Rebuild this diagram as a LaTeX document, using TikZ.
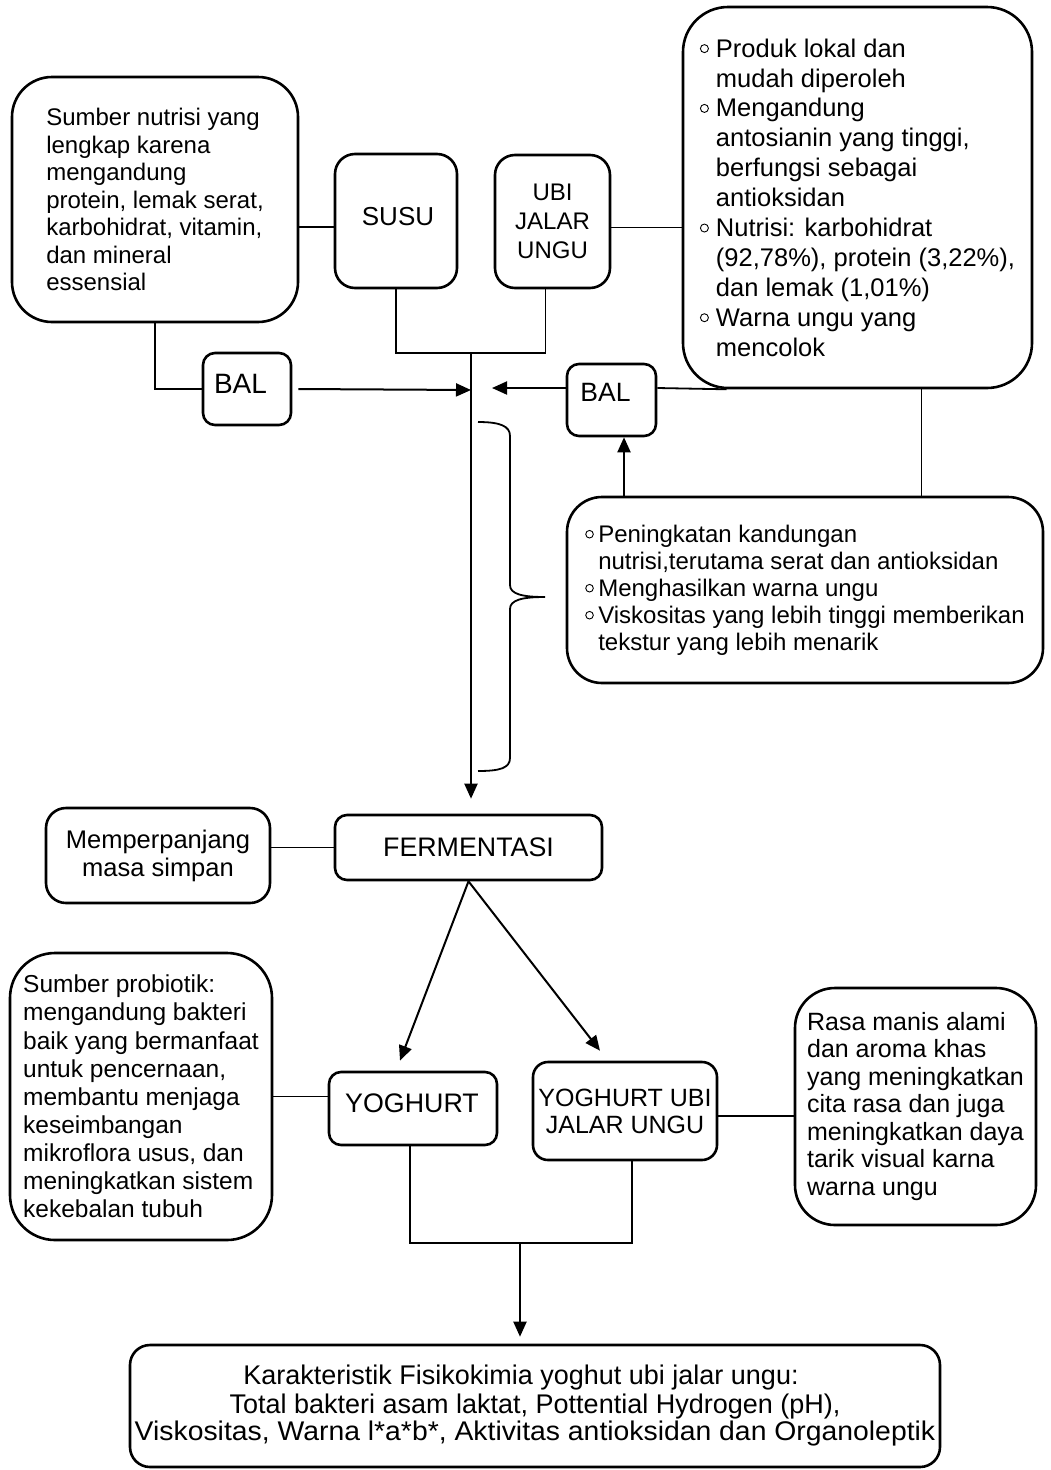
\documentclass[tikz,border=0pt]{standalone}
\usepackage{fontspec}
\setmainfont{Liberation Sans}
\usetikzlibrary{arrows.meta}
\newcommand\fsz[2]{\fontsize{#1}{#2}\selectfont}
\newcommand\bul{\makebox[16pt][l]{\tikz[baseline=0pt]\draw[line width=0.9pt] (4.5pt,8.5pt) circle (4pt);}}
\newcommand\bulp{\makebox[13pt][l]{\tikz[baseline=0pt]\draw[line width=0.9pt] (4pt,8pt) circle (3.8pt);}}
\newcommand\ind{\makebox[16pt]{}}
\newcommand\indp{\makebox[13pt]{}}
% text moved by (#1/2, #2 + cap/2) from the centre of its box
\newcommand\shifted[3]{\raisebox{#2}[0pt][0pt]{\makebox[0pt]{\hspace*{#1}#3}}}
\tikzset{
  box/.style={draw, line width=2.6pt, rounded corners=#1, inner sep=0pt, align=left},
  box/.default=12pt,
  conn/.style={line width=1.8pt},
  arr/.style={line width=2pt, -{Triangle[length=15pt,width=13pt]}},
}
\begin{document}
\begin{tikzpicture}[x=1pt,y=-1pt]
\useasboundingbox (0,0) rectangle (1050,1470);
% top row
\node[box=40pt, minimum width=286pt, minimum height=245pt, font=\fsz{24}{27.5}] (nutri) at (155,199.5)
  {Sumber nutrisi yang\\lengkap karena\\mengandung\\protein, lemak serat,\\karbohidrat, vitamin,\\dan mineral\\essensial};
\node[box=20pt, minimum width=122pt, minimum height=134pt, font=\fsz{26}{30}] (susu) at (396,221) {\shifted{4pt}{-4.3pt}{SUSU}};
\node[box=20pt, minimum width=115pt, minimum height=133pt, align=center, font=\fsz{24}{29}] (ubi) at (552.5,221.5) {UBI\\JALAR\\UNGU};
\node[box=45pt, minimum width=349pt, minimum height=381pt, font=\fsz{25.5}{29.9}] (ubiinfo) at (857.5,197.5)
  {\bul Produk lokal dan\\\ind mudah diperoleh\\\bul Mengandung\\\ind antosianin yang tinggi,\\\ind berfungsi sebagai\\\ind antioksidan\\\bul Nutrisi: karbohidrat\\\ind (92,78\%), protein (3,22\%),\\\ind dan lemak (1,01\%)\\\bul Warna ungu yang\\\ind mencolok};
\node[box=12pt, minimum width=88pt, minimum height=72pt, font=\fsz{28}{32}] (bal1) at (247,389) {\shifted{-13pt}{-4pt}{BAL}};
\node[box=12pt, minimum width=89pt, minimum height=72pt, font=\fsz{26.5}{30}] (bal2) at (611.5,400) {\shifted{-12pt}{-1.5pt}{BAL}};
\node[box=35pt, minimum width=476pt, minimum height=186pt, font=\fsz{24}{27}] (pen) at (805,590)
  {\bulp Peningkatan kandungan\\\indp nutrisi,terutama serat dan antioksidan\\\bulp Menghasilkan warna ungu\\\bulp Viskositas yang lebih tinggi memberikan\\\indp tekstur yang lebih menarik};
% middle
\node[box=12pt, minimum width=267pt, minimum height=65pt, align=center, font=\fsz{26.8}{30}] (ferm) at (468.5,847.5) {FERMENTASI};
\node[box=20pt, minimum width=224pt, minimum height=95pt, align=center, font=\fsz{25.5}{28}] (memp) at (158,855.5) {Memperpanjang\\masa simpan};
\node[box=45pt, minimum width=262pt, minimum height=287pt, font=\fsz{24.5}{28.1}] (prob) at (141,1096.5)
  {Sumber probiotik:\\mengandung bakteri\\baik yang bermanfaat\\untuk pencernaan,\\membantu menjaga\\keseimbangan\\mikroflora usus, dan\\meningkatkan sistem\\kekebalan tubuh};
\node[box=12pt, minimum width=168pt, minimum height=73pt, font=\fsz{26.8}{30}] (yog) at (413,1108.5) {\shifted{-2pt}{-3.6pt}{YOGHURT}};
\node[box=15pt, minimum width=184pt, minimum height=98pt, align=center, font=\fsz{25}{27}] (yuju) at (625,1111) {YOGHURT UBI\\JALAR UNGU};
\node[box=40pt, minimum width=241pt, minimum height=237pt, font=\fsz{25}{27.5}] (rasa) at (915.5,1106.5)
  {Rasa manis alami\\dan aroma khas\\yang meningkatkan\\cita rasa dan juga\\meningkatkan daya\\tarik visual karna\\warna ungu};
\node[box=20pt, minimum width=810pt, minimum height=122pt, align=center, font=\fsz{27}{28}] (karak) at (535,1406)
  {Karakteristik Fisikokimia yoghut ubi jalar ungu:\hspace*{28pt}\\Total bakteri asam laktat, Pottential Hydrogen (pH),\hspace*{24pt}\\\scalebox{1.05}[1]{Viskositas, Warna l*a*b*, Aktivitas antioksidan dan Organoleptik}};
% coordinates
\coordinate (top) at (471,353);
\coordinate (jl) at (471,390);
\coordinate (jr) at (492,388);
\coordinate (bj) at (520,1243);
% connectors top
\draw[conn] ([yshift=-6pt]susu.west) -- ([yshift=-6pt]susu.west -| nutri.east);
\draw[conn] ([yshift=-6pt]ubi.east) -- ([yshift=-6pt]ubi.east -| ubiinfo.west);
\draw[conn] (nutri.south) -- (nutri.south |- bal1.west) -- (bal1.west);
\draw[arr] ([xshift=6pt]bal1.east) -- (jl);
\draw[conn] (susu.south) -- (susu.south |- top) -- ([xshift=-7pt]ubi.south |- top) -- ([xshift=-7pt]ubi.south);
\draw[arr] (top) -- ([yshift=15pt]ferm.north -| top);
\draw[arr] ([yshift=12pt]bal2.west) -- (jr);
\draw[conn] ([yshift=12pt]bal2.east) -- ([xshift=45pt]ubiinfo.south west);
\draw[conn] ([xshift=64pt]ubiinfo.south) -- ([xshift=64pt]ubiinfo.south |- pen.north);
\draw[arr] ([xshift=12.5pt]bal2.south |- pen.north) -- ([xshift=12.5pt]bal2.south);
% brace
\draw[conn] (478,422) .. controls (500,422) and (510,426) .. (510,436) -- (510,585)
  .. controls (510,594) and (522,597) .. (545,597)
  .. controls (522,597) and (510,600) .. (510,609) -- (510,758)
  .. controls (510,768) and (500,771) .. (478,771);
% middle connectors
\draw[conn] (ferm.west) -- (ferm.west -| memp.east);
\draw[arr] (ferm.south) -- ([shift={(-13pt,10pt)}]yog.north);
\draw[arr] (ferm.south) -- ([shift={(-25pt,10pt)}]yuju.north);
\draw[conn] (yog.west |- prob.east) -- (prob.east);
\draw[conn] ([yshift=-5pt]yuju.east) -- ([yshift=-5pt]yuju.east -| rasa.west);
% bottom
\draw[conn] ([xshift=-3pt]yog.south) -- ([xshift=-3pt]yog.south |- bj) -- ([xshift=7pt]yuju.south |- bj) -- ([xshift=7pt]yuju.south);
\draw[arr] (bj) -- ([yshift=7pt]karak.north -| bj);
\end{tikzpicture}
\end{document}
